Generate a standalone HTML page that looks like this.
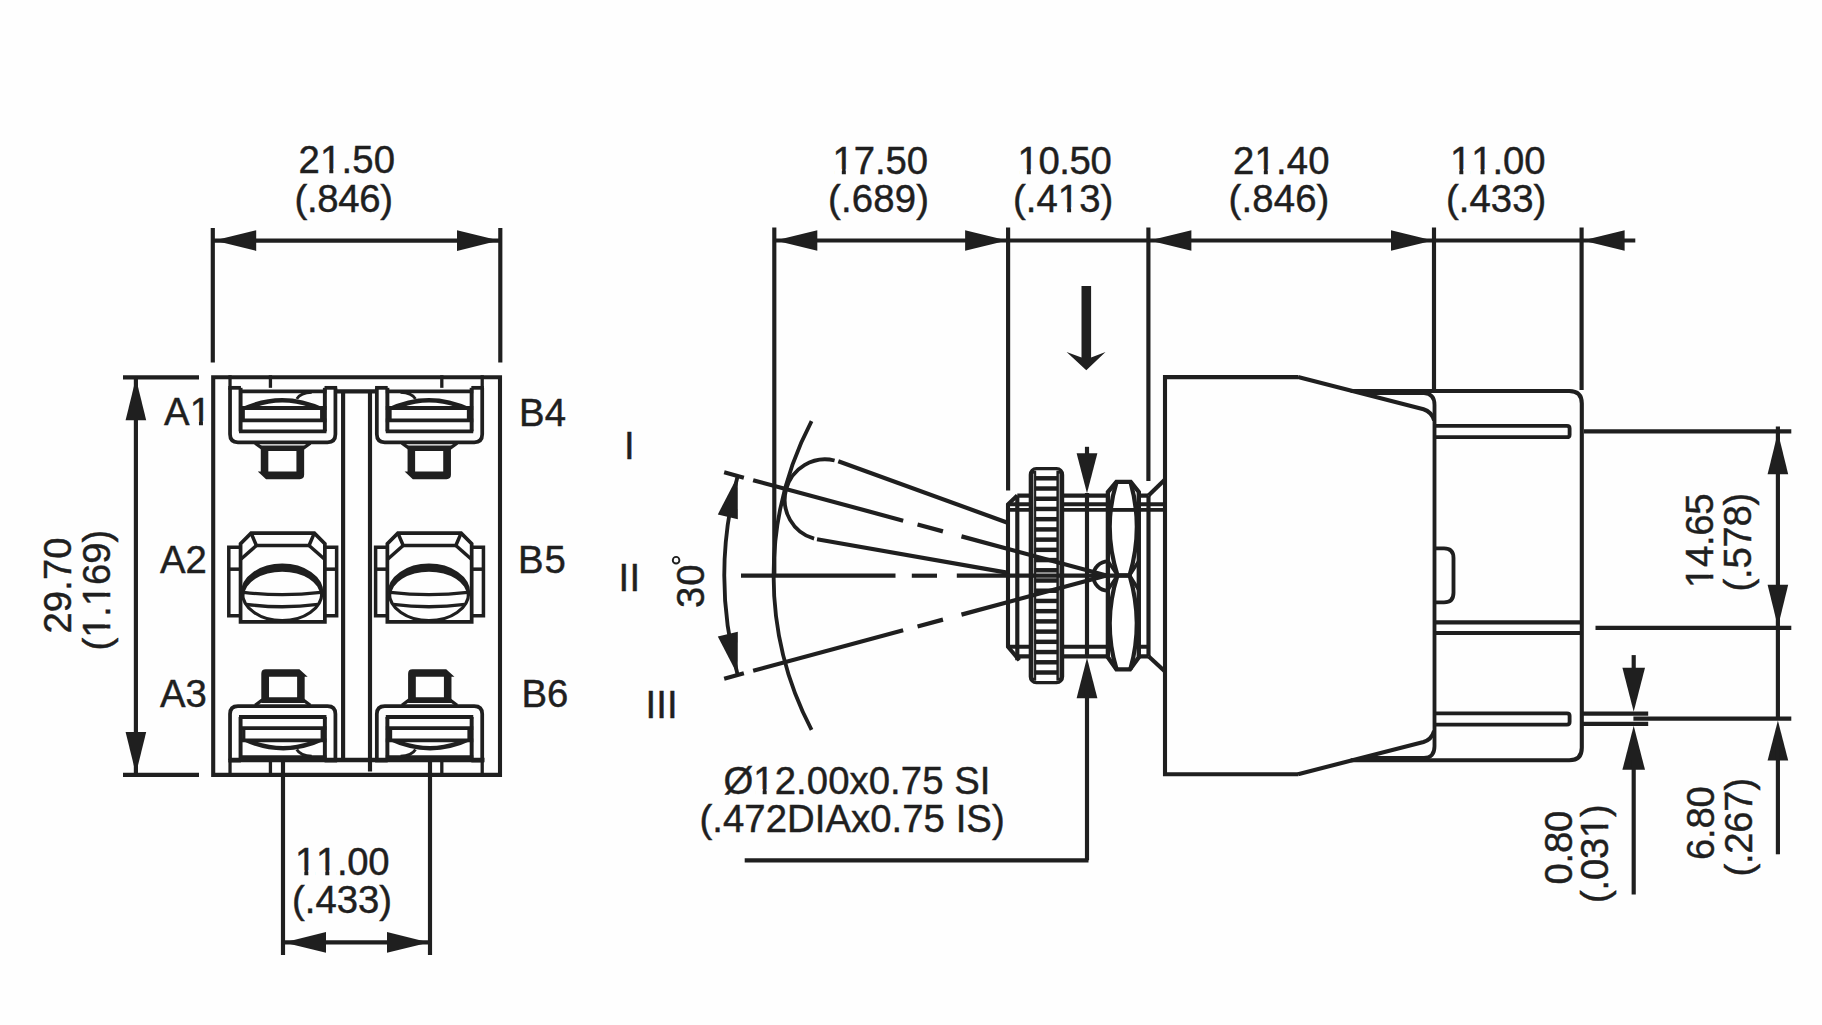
<!DOCTYPE html>
<html><head><meta charset="utf-8"><title>Toggle switch dimensions</title>
<style>
html,body{margin:0;padding:0;background:#fefefe;}
body{width:1822px;height:1025px;overflow:hidden;}
svg{display:block;}
svg text{font-family:"Liberation Sans",sans-serif;fill:#1f1f1f;stroke:#1f1f1f;stroke-width:0.45px;font-kerning:none;font-variant-ligatures:none;}
</style></head><body>
<svg width="1822" height="1025" viewBox="0 0 1822 1025" stroke="#1f1f1f" fill="none" stroke-linecap="butt" stroke-linejoin="miter">
<rect x="0" y="0" width="1822" height="1025" fill="#fefefe" stroke="none"/>
<path d="M213.2,774.9 L213.2,377.3 L500.0,377.3 L500.0,774.9 Z" stroke-width="4.1" fill="none" />
<line x1="212.80" y1="228.00" x2="212.80" y2="362.50" stroke-width="4.16" />
<line x1="500.30" y1="228.00" x2="500.30" y2="362.50" stroke-width="4.16" />
<line x1="213.20" y1="240.60" x2="500.00" y2="240.60" stroke-width="4.16" />
<polygon points="214.20,240.60 256.20,230.30 256.20,250.90" fill="#1f1f1f" stroke="none"/>
<polygon points="499.00,240.60 457.00,250.90 457.00,230.30" fill="#1f1f1f" stroke="none"/>
<line x1="123.00" y1="377.30" x2="199.00" y2="377.30" stroke-width="4.16" />
<line x1="123.00" y1="774.90" x2="199.00" y2="774.90" stroke-width="4.16" />
<line x1="135.90" y1="377.30" x2="135.90" y2="774.90" stroke-width="4.16" />
<polygon points="135.90,378.30 146.20,420.30 125.60,420.30" fill="#1f1f1f" stroke="none"/>
<polygon points="135.90,773.90 125.60,731.90 146.20,731.90" fill="#1f1f1f" stroke="none"/>
<line x1="283.00" y1="760.00" x2="283.00" y2="955.00" stroke-width="4.16" />
<line x1="430.00" y1="760.00" x2="430.00" y2="955.00" stroke-width="4.16" />
<line x1="283.00" y1="942.40" x2="430.00" y2="942.40" stroke-width="4.16" />
<polygon points="284.00,942.40 326.00,932.10 326.00,952.70" fill="#1f1f1f" stroke="none"/>
<polygon points="429.00,942.40 387.00,952.70 387.00,932.10" fill="#1f1f1f" stroke="none"/>
<line x1="343.10" y1="391.30" x2="343.10" y2="761.00" stroke-width="4.16" />
<line x1="370.00" y1="391.30" x2="370.00" y2="771.50" stroke-width="4.16" />
<g transform="translate(-0.70 0)">
<path d="M230.73,387.83 L230.73,434.37 Q230.73,442.27 238.64,442.27 L328.21,442.27 Q336.11,442.27 336.11,434.37 L336.11,387.83" stroke-width="3.74" fill="none" />
<line x1="228.98" y1="387.83" x2="241.62" y2="387.83" stroke-width="3.74" />
<line x1="325.22" y1="387.83" x2="337.86" y2="387.83" stroke-width="3.74" />
<line x1="241.27" y1="387.83" x2="241.27" y2="431.39" stroke-width="3.96" />
<line x1="325.57" y1="387.83" x2="325.57" y2="431.39" stroke-width="3.96" />
<line x1="239.69" y1="391.34" x2="327.15" y2="391.34" stroke-width="3.74" />
<line x1="239.69" y1="408.03" x2="327.15" y2="408.03" stroke-width="3.96" />
<line x1="239.69" y1="420.32" x2="327.15" y2="420.32" stroke-width="3.74" />
<line x1="239.69" y1="431.39" x2="327.15" y2="431.39" stroke-width="3.96" />
<line x1="243.91" y1="408.03" x2="243.91" y2="420.32" stroke-width="3.3" />
<line x1="322.41" y1="408.03" x2="322.41" y2="420.32" stroke-width="3.3" />
<path d="M241.45,407.85 Q282.54,388.18 324.52,407.85 L310.99,407.15 Q282.54,397.67 255.85,407.15 Z" fill="#1f1f1f" stroke="none"/>
<path d="M297.47,398.90 Q300.98,392.75 312.40,392.22" stroke-width="2.86" fill="none" />
<line x1="230.73" y1="375.19" x2="230.73" y2="387.83" stroke-width="3.3" />
<line x1="271.13" y1="375.19" x2="271.13" y2="387.83" stroke-width="3.3" />
<path d="M255.85,443.15 L262.35,447.89 L304.50,447.89 L310.99,443.15" stroke-width="3.3" fill="none" />
<path d="M261.47,445.44 L304.85,445.44 L304.85,474.76 Q304.85,479.16 300.46,479.16 L266.74,479.16 L258.48,471.60 L261.47,471.60 Z M269.02,451.06 L269.02,471.60 L297.12,471.60 L297.12,451.06 Z" fill="#1f1f1f" stroke="none" fill-rule="evenodd"/>
</g>
<g transform="translate(146.10 0)">
<path d="M230.73,387.83 L230.73,434.37 Q230.73,442.27 238.64,442.27 L328.21,442.27 Q336.11,442.27 336.11,434.37 L336.11,387.83" stroke-width="3.74" fill="none" />
<line x1="228.98" y1="387.83" x2="241.62" y2="387.83" stroke-width="3.74" />
<line x1="325.22" y1="387.83" x2="337.86" y2="387.83" stroke-width="3.74" />
<line x1="241.27" y1="387.83" x2="241.27" y2="431.39" stroke-width="3.96" />
<line x1="325.57" y1="387.83" x2="325.57" y2="431.39" stroke-width="3.96" />
<line x1="239.69" y1="391.34" x2="327.15" y2="391.34" stroke-width="3.74" />
<line x1="239.69" y1="408.03" x2="327.15" y2="408.03" stroke-width="3.96" />
<line x1="239.69" y1="420.32" x2="327.15" y2="420.32" stroke-width="3.74" />
<line x1="239.69" y1="431.39" x2="327.15" y2="431.39" stroke-width="3.96" />
<line x1="243.91" y1="408.03" x2="243.91" y2="420.32" stroke-width="3.3" />
<line x1="322.41" y1="408.03" x2="322.41" y2="420.32" stroke-width="3.3" />
<path d="M241.45,407.85 Q282.54,388.18 324.52,407.85 L310.99,407.15 Q282.54,397.67 255.85,407.15 Z" fill="#1f1f1f" stroke="none"/>
<path d="M269.37,398.90 Q265.86,392.75 254.44,392.22" stroke-width="2.86" fill="none" />
<line x1="336.11" y1="375.19" x2="336.11" y2="387.83" stroke-width="3.3" />
<line x1="295.71" y1="375.19" x2="295.71" y2="387.83" stroke-width="3.3" />
<path d="M255.85,443.15 L262.35,447.89 L304.50,447.89 L310.99,443.15" stroke-width="3.3" fill="none" />
<path d="M261.47,445.44 L304.85,445.44 L304.85,474.76 Q304.85,479.16 300.46,479.16 L266.74,479.16 L258.48,471.60 L261.47,471.60 Z M269.02,451.06 L269.02,471.60 L297.12,471.60 L297.12,451.06 Z" fill="#1f1f1f" stroke="none" fill-rule="evenodd"/>
</g>
<g transform="translate(-0.70 0) rotate(180 283.42 574.2)">
<path d="M230.73,387.83 L230.73,434.37 Q230.73,442.27 238.64,442.27 L328.21,442.27 Q336.11,442.27 336.11,434.37 L336.11,387.83" stroke-width="3.74" fill="none" />
<line x1="228.98" y1="387.83" x2="241.62" y2="387.83" stroke-width="3.74" />
<line x1="325.22" y1="387.83" x2="337.86" y2="387.83" stroke-width="3.74" />
<line x1="241.27" y1="387.83" x2="241.27" y2="431.39" stroke-width="3.96" />
<line x1="325.57" y1="387.83" x2="325.57" y2="431.39" stroke-width="3.96" />
<line x1="239.69" y1="391.34" x2="327.15" y2="391.34" stroke-width="3.74" />
<line x1="239.69" y1="408.03" x2="327.15" y2="408.03" stroke-width="3.96" />
<line x1="239.69" y1="420.32" x2="327.15" y2="420.32" stroke-width="3.74" />
<line x1="239.69" y1="431.39" x2="327.15" y2="431.39" stroke-width="3.96" />
<line x1="243.91" y1="408.03" x2="243.91" y2="420.32" stroke-width="3.3" />
<line x1="322.41" y1="408.03" x2="322.41" y2="420.32" stroke-width="3.3" />
<path d="M241.45,407.85 Q282.54,388.18 324.52,407.85 L310.99,407.15 Q282.54,397.67 255.85,407.15 Z" fill="#1f1f1f" stroke="none"/>
<path d="M269.37,398.90 Q265.86,392.75 254.44,392.22" stroke-width="2.86" fill="none" />
<line x1="336.11" y1="375.19" x2="336.11" y2="387.83" stroke-width="3.3" />
<line x1="295.71" y1="375.19" x2="295.71" y2="387.83" stroke-width="3.3" />
<path d="M255.85,443.15 L262.35,447.89 L304.50,447.89 L310.99,443.15" stroke-width="3.3" fill="none" />
<path d="M261.47,445.44 L304.85,445.44 L304.85,474.76 Q304.85,479.16 300.46,479.16 L266.74,479.16 L258.48,471.60 L261.47,471.60 Z M269.02,451.06 L269.02,471.60 L297.12,471.60 L297.12,451.06 Z" fill="#1f1f1f" stroke="none" fill-rule="evenodd"/>
</g>
<g transform="translate(146.10 0) rotate(180 283.42 574.2)">
<path d="M230.73,387.83 L230.73,434.37 Q230.73,442.27 238.64,442.27 L328.21,442.27 Q336.11,442.27 336.11,434.37 L336.11,387.83" stroke-width="3.74" fill="none" />
<line x1="228.98" y1="387.83" x2="241.62" y2="387.83" stroke-width="3.74" />
<line x1="325.22" y1="387.83" x2="337.86" y2="387.83" stroke-width="3.74" />
<line x1="241.27" y1="387.83" x2="241.27" y2="431.39" stroke-width="3.96" />
<line x1="325.57" y1="387.83" x2="325.57" y2="431.39" stroke-width="3.96" />
<line x1="239.69" y1="391.34" x2="327.15" y2="391.34" stroke-width="3.74" />
<line x1="239.69" y1="408.03" x2="327.15" y2="408.03" stroke-width="3.96" />
<line x1="239.69" y1="420.32" x2="327.15" y2="420.32" stroke-width="3.74" />
<line x1="239.69" y1="431.39" x2="327.15" y2="431.39" stroke-width="3.96" />
<line x1="243.91" y1="408.03" x2="243.91" y2="420.32" stroke-width="3.3" />
<line x1="322.41" y1="408.03" x2="322.41" y2="420.32" stroke-width="3.3" />
<path d="M241.45,407.85 Q282.54,388.18 324.52,407.85 L310.99,407.15 Q282.54,397.67 255.85,407.15 Z" fill="#1f1f1f" stroke="none"/>
<path d="M297.47,398.90 Q300.98,392.75 312.40,392.22" stroke-width="2.86" fill="none" />
<line x1="230.73" y1="375.19" x2="230.73" y2="387.83" stroke-width="3.3" />
<line x1="271.13" y1="375.19" x2="271.13" y2="387.83" stroke-width="3.3" />
<path d="M255.85,443.15 L262.35,447.89 L304.50,447.89 L310.99,443.15" stroke-width="3.3" fill="none" />
<path d="M261.47,445.44 L304.85,445.44 L304.85,474.76 Q304.85,479.16 300.46,479.16 L266.74,479.16 L258.48,471.60 L261.47,471.60 Z M269.02,451.06 L269.02,471.60 L297.12,471.60 L297.12,451.06 Z" fill="#1f1f1f" stroke="none" fill-rule="evenodd"/>
</g>
<line x1="336.00" y1="391.30" x2="378.00" y2="391.30" stroke-width="4.35" />
<line x1="229.00" y1="760.00" x2="484.50" y2="760.00" stroke-width="4.35" />
<g transform="translate(-0.70 0)">
<path d="M241.27,621.86 L241.27,543.71 L251.81,533.17 L315.03,533.17 L325.57,543.71 L325.57,621.86 Z" stroke-width="3.74" fill="none" />
<path d="M251.81,533.17 L257.08,545.47 L309.76,545.47 L315.03,533.17" stroke-width="3.52" fill="none" />
<path d="M257.08,545.47 L241.80,558.99" stroke-width="3.52" fill="none" />
<path d="M309.76,545.47 L325.04,558.99" stroke-width="3.52" fill="none" />
<path d="M241.27,547.22 L229.50,547.22 L229.50,615.71 L241.27,615.71" stroke-width="3.52" fill="none" />
<path d="M229.50,569.17 L241.27,569.17" stroke-width="3.52" fill="none" />
<path d="M325.57,547.22 L337.34,547.22 L337.34,615.71 L325.57,615.71" stroke-width="3.52" fill="none" />
<path d="M325.57,569.17 L337.34,569.17" stroke-width="3.52" fill="none" />
<ellipse cx="282.89" cy="592.88" rx="39.69" ry="27.75" stroke-width="3.2" fill="none"/>
<path d="M243.20,592.88 A39.69,27.75 0 0 1 322.59,592.88 L320.83,595.87 A37.93,24.24 0 0 0 244.96,595.87 Z" fill="#1f1f1f" stroke="none"/>
<path d="M244.26,592.36 Q282.89,596.92 321.53,592.36" stroke-width="3.3" fill="none" />
<path d="M247.07,604.30 Q282.89,609.22 318.72,604.30" stroke-width="3.3" fill="none" />
</g>
<g transform="translate(146.10 0)">
<path d="M241.27,621.86 L241.27,543.71 L251.81,533.17 L315.03,533.17 L325.57,543.71 L325.57,621.86 Z" stroke-width="3.74" fill="none" />
<path d="M251.81,533.17 L257.08,545.47 L309.76,545.47 L315.03,533.17" stroke-width="3.52" fill="none" />
<path d="M257.08,545.47 L241.80,558.99" stroke-width="3.52" fill="none" />
<path d="M309.76,545.47 L325.04,558.99" stroke-width="3.52" fill="none" />
<path d="M241.27,547.22 L229.50,547.22 L229.50,615.71 L241.27,615.71" stroke-width="3.52" fill="none" />
<path d="M229.50,569.17 L241.27,569.17" stroke-width="3.52" fill="none" />
<path d="M325.57,547.22 L337.34,547.22 L337.34,615.71 L325.57,615.71" stroke-width="3.52" fill="none" />
<path d="M325.57,569.17 L337.34,569.17" stroke-width="3.52" fill="none" />
<ellipse cx="282.89" cy="592.88" rx="39.69" ry="27.75" stroke-width="3.2" fill="none"/>
<path d="M243.20,592.88 A39.69,27.75 0 0 1 322.59,592.88 L320.83,595.87 A37.93,24.24 0 0 0 244.96,595.87 Z" fill="#1f1f1f" stroke="none"/>
<path d="M244.26,592.36 Q282.89,596.92 321.53,592.36" stroke-width="3.3" fill="none" />
<path d="M247.07,604.30 Q282.89,609.22 318.72,604.30" stroke-width="3.3" fill="none" />
</g>
<text x="298.50" y="173.40" font-size="38.3" letter-spacing="0.200">21.50</text>
<text x="294.50" y="212.00" font-size="38.3" letter-spacing="-0.320">(.846)</text>
<text x="295.00" y="874.80" font-size="38.3" letter-spacing="-0.300">11.00</text>
<text x="292.00" y="913.40" font-size="38.3" letter-spacing="0.000">(.433)</text>
<text x="164.10" y="425.40" font-size="38.3" letter-spacing="0.000">A1</text>
<text x="160.00" y="573.10" font-size="38.3" letter-spacing="0.000">A2</text>
<text x="160.00" y="707.20" font-size="38.3" letter-spacing="0.000">A3</text>
<text x="519.00" y="425.60" font-size="38.3" letter-spacing="0.200">B4</text>
<text x="518.00" y="573.00" font-size="38.3" letter-spacing="1.000">B5</text>
<text x="521.50" y="707.00" font-size="38.3" letter-spacing="0.000">B6</text>
<text x="71.20" y="633.50" font-size="38.3" letter-spacing="0.050" transform="rotate(-90 71.20 633.50)">29.70</text>
<text x="109.50" y="650.50" font-size="38.3" letter-spacing="-0.100" transform="rotate(-90 109.50 650.50)">(1.169)</text>
<line x1="774.30" y1="227.60" x2="774.30" y2="575.80" stroke-width="4.16" />
<line x1="1008.10" y1="227.60" x2="1008.10" y2="490.50" stroke-width="4.16" />
<line x1="1148.40" y1="227.60" x2="1148.40" y2="481.00" stroke-width="4.16" />
<line x1="1434.00" y1="227.60" x2="1434.00" y2="390.00" stroke-width="4.16" />
<line x1="1581.60" y1="227.60" x2="1581.60" y2="390.00" stroke-width="4.16" />
<line x1="774.30" y1="240.50" x2="1635.30" y2="240.50" stroke-width="4.16" />
<polygon points="775.30,240.50 817.30,230.20 817.30,250.80" fill="#1f1f1f" stroke="none"/>
<polygon points="1007.10,240.50 965.10,250.80 965.10,230.20" fill="#1f1f1f" stroke="none"/>
<polygon points="1149.40,240.50 1191.40,230.20 1191.40,250.80" fill="#1f1f1f" stroke="none"/>
<polygon points="1433.00,240.50 1391.00,250.80 1391.00,230.20" fill="#1f1f1f" stroke="none"/>
<polygon points="1582.60,240.50 1624.60,230.20 1624.60,250.80" fill="#1f1f1f" stroke="none"/>
<text x="832.50" y="173.50" font-size="38.3" letter-spacing="-0.100">17.50</text>
<text x="828.00" y="211.90" font-size="38.3" letter-spacing="0.200">(.689)</text>
<text x="1017.50" y="173.50" font-size="38.3" letter-spacing="-0.400">10.50</text>
<text x="1013.00" y="211.90" font-size="38.3" letter-spacing="0.040">(.413)</text>
<text x="1233.00" y="173.70" font-size="38.3" letter-spacing="0.200">21.40</text>
<text x="1228.50" y="211.50" font-size="38.3" letter-spacing="0.160">(.846)</text>
<text x="1450.00" y="173.70" font-size="38.3" letter-spacing="-0.050">11.00</text>
<text x="1446.00" y="211.50" font-size="38.3" letter-spacing="0.040">(.433)</text>
<polygon points="1086.30,370.30 1066.60,351.90 1081.50,357.50 1081.50,286.00 1091.10,286.00 1091.10,357.50 1105.50,351.90" fill="#1f1f1f" stroke="none"/>
<path d="M1298,377.1 L1165.0,377.1 L1165.0,774.2 L1298,774.2" stroke-width="4.1" fill="none" />
<path d="M1298,377.1 L1423.5,409.3 Q1431.5,411.8 1434.2,420.5" stroke-width="4.1" fill="none" />
<path d="M1298,774.2 L1423.5,742.0 Q1431.5,739.5 1434.2,730.8" stroke-width="4.1" fill="none" />
<path d="M1350.7,391.0 L1569.3,391.0 Q1581.8,391.0 1581.8,403.5 L1581.8,747.7 Q1581.8,760.2 1569.3,760.2 L1350.7,760.2" stroke-width="4.1" fill="none" />
<path d="M1362,393.2 L1424,393.2 Q1434.5,393.6 1434.5,405 L1434.5,746.2 Q1434.5,757.7 1424,758.0 L1362,758.0" stroke-width="3.84" fill="none" />
<path d="M1434.5,425.9 L1567,425.9 Q1569.6,425.9 1569.6,428.4 L1569.6,434.7 Q1569.6,437.2 1567,437.2 L1434.5,437.2" stroke-width="3.84" fill="none" />
<path d="M1434.5,713.3 L1567,713.3 Q1569.6,713.3 1569.6,715.8 L1569.6,722.1 Q1569.6,724.6 1567,724.6 L1434.5,724.6" stroke-width="3.84" fill="none" />
<line x1="1434.50" y1="622.40" x2="1581.80" y2="622.40" stroke-width="4.16" />
<line x1="1434.50" y1="633.00" x2="1581.80" y2="633.00" stroke-width="4.16" />
<path d="M1434.5,548.4 L1444,548.4 Q1453.5,548.4 1453.5,558 L1453.5,592.8 Q1453.5,602.4 1444,602.4 L1434.5,602.4" stroke-width="3.84" fill="none" />
<line x1="1583.90" y1="431.30" x2="1791.30" y2="431.30" stroke-width="4.16" />
<line x1="1595.50" y1="627.80" x2="1791.30" y2="627.80" stroke-width="4.16" />
<line x1="1633.40" y1="718.70" x2="1791.30" y2="718.70" stroke-width="4.16" />
<line x1="1582.60" y1="713.70" x2="1648.20" y2="713.70" stroke-width="4.16" />
<line x1="1582.60" y1="723.80" x2="1648.20" y2="723.80" stroke-width="4.16" />
<line x1="1777.90" y1="426.40" x2="1777.90" y2="720.00" stroke-width="4.16" />
<polygon points="1777.90,432.30 1788.20,474.30 1767.60,474.30" fill="#1f1f1f" stroke="none"/>
<polygon points="1777.90,626.80 1767.60,584.80 1788.20,584.80" fill="#1f1f1f" stroke="none"/>
<polygon points="1777.90,720.50 1788.20,760.50 1767.60,760.50" fill="#1f1f1f" stroke="none"/>
<line x1="1777.90" y1="740.00" x2="1777.90" y2="854.30" stroke-width="4.16" />
<line x1="1633.70" y1="655.10" x2="1633.70" y2="680.00" stroke-width="4.16" />
<polygon points="1633.70,711.80 1622.40,667.80 1645.00,667.80" fill="#1f1f1f" stroke="none"/>
<polygon points="1633.70,725.80 1645.00,769.80 1622.40,769.80" fill="#1f1f1f" stroke="none"/>
<line x1="1633.70" y1="760.00" x2="1633.70" y2="894.50" stroke-width="4.16" />
<text x="1713.40" y="588.00" font-size="38.3" letter-spacing="-0.300" transform="rotate(-90 1713.40 588.00)">14.65</text>
<text x="1750.90" y="591.50" font-size="38.3" letter-spacing="-0.240" transform="rotate(-90 1750.90 591.50)">(.578)</text>
<text x="1714.10" y="860.00" font-size="38.3" letter-spacing="-0.267" transform="rotate(-90 1714.10 860.00)">6.80</text>
<text x="1751.50" y="876.50" font-size="38.3" letter-spacing="-0.280" transform="rotate(-90 1751.50 876.50)">(.267)</text>
<text x="1572.10" y="884.50" font-size="38.3" letter-spacing="-0.267" transform="rotate(-90 1572.10 884.50)">0.80</text>
<text x="1607.90" y="903.00" font-size="38.3" letter-spacing="-0.240" transform="rotate(-90 1607.90 903.00)">(.031)</text>
<path d="M1017.3,495.6 L1008.0,504.3 L1008.0,646.8 L1019.3,660.3" stroke-width="4.1" fill="none" />
<line x1="1017.30" y1="495.60" x2="1017.30" y2="660.30" stroke-width="4.16" />
<line x1="1017.30" y1="495.60" x2="1148.50" y2="495.60" stroke-width="4.22" />
<line x1="1008.00" y1="504.30" x2="1165.00" y2="504.30" stroke-width="4.1" />
<line x1="1008.00" y1="509.90" x2="1165.00" y2="509.90" stroke-width="3.84" />
<line x1="1008.00" y1="646.80" x2="1148.50" y2="646.80" stroke-width="4.1" />
<line x1="1017.30" y1="656.30" x2="1148.50" y2="656.30" stroke-width="4.22" />
<line x1="1148.50" y1="495.60" x2="1148.50" y2="656.30" stroke-width="4.16" />
<line x1="1148.50" y1="495.60" x2="1165.00" y2="479.50" stroke-width="4.16" />
<line x1="1148.50" y1="656.30" x2="1165.00" y2="671.50" stroke-width="4.16" />
<rect x="1030.3" y="468.7" width="32.299999999999955" height="214.00000000000006" rx="6" ry="6" fill="#ffffff" stroke-width="3.2"/>
<rect x="1030.50" y="470.7" width="5.70" height="210.00000000000006" fill="#1f1f1f" stroke="none"/>
<rect x="1056.40" y="470.7" width="6.00" height="210.00000000000006" fill="#1f1f1f" stroke="none"/>
<line x1="1033.60" y1="473.70" x2="1033.60" y2="677.70" stroke-width="0.9" stroke="#bbbbbb"/>
<line x1="1059.30" y1="473.70" x2="1059.30" y2="677.70" stroke-width="0.9" stroke="#bbbbbb"/>
<line x1="1034.60" y1="478.30" x2="1057.80" y2="478.30" stroke-width="4.48" />
<line x1="1034.60" y1="488.52" x2="1057.80" y2="488.52" stroke-width="4.48" />
<line x1="1034.60" y1="498.74" x2="1057.80" y2="498.74" stroke-width="4.48" />
<line x1="1034.60" y1="508.96" x2="1057.80" y2="508.96" stroke-width="4.48" />
<line x1="1034.60" y1="519.18" x2="1057.80" y2="519.18" stroke-width="4.48" />
<line x1="1034.60" y1="529.41" x2="1057.80" y2="529.41" stroke-width="4.48" />
<line x1="1034.60" y1="539.63" x2="1057.80" y2="539.63" stroke-width="4.48" />
<line x1="1034.60" y1="549.85" x2="1057.80" y2="549.85" stroke-width="4.48" />
<line x1="1034.60" y1="560.07" x2="1057.80" y2="560.07" stroke-width="4.48" />
<line x1="1034.60" y1="570.29" x2="1057.80" y2="570.29" stroke-width="4.48" />
<line x1="1034.60" y1="580.51" x2="1057.80" y2="580.51" stroke-width="4.48" />
<line x1="1034.60" y1="590.73" x2="1057.80" y2="590.73" stroke-width="4.48" />
<line x1="1034.60" y1="600.95" x2="1057.80" y2="600.95" stroke-width="4.48" />
<line x1="1034.60" y1="611.17" x2="1057.80" y2="611.17" stroke-width="4.48" />
<line x1="1034.60" y1="621.39" x2="1057.80" y2="621.39" stroke-width="4.48" />
<line x1="1034.60" y1="631.62" x2="1057.80" y2="631.62" stroke-width="4.48" />
<line x1="1034.60" y1="641.84" x2="1057.80" y2="641.84" stroke-width="4.48" />
<line x1="1034.60" y1="652.06" x2="1057.80" y2="652.06" stroke-width="4.48" />
<line x1="1034.60" y1="662.28" x2="1057.80" y2="662.28" stroke-width="4.48" />
<line x1="1034.60" y1="672.50" x2="1057.80" y2="672.50" stroke-width="4.48" />
<line x1="1087.00" y1="446.80" x2="1087.00" y2="460.00" stroke-width="4.16" />
<polygon points="1087.00,493.20 1076.60,453.20 1097.40,453.20" fill="#1f1f1f" stroke="none"/>
<line x1="1087.00" y1="493.00" x2="1087.00" y2="657.50" stroke-width="4.16" />
<polygon points="1087.00,657.80 1097.40,698.30 1076.60,698.30" fill="#1f1f1f" stroke="none"/>
<line x1="1087.00" y1="690.00" x2="1087.00" y2="860.30" stroke-width="4.16" />
<line x1="744.70" y1="860.30" x2="1088.50" y2="860.30" stroke-width="4.16" />
<path d="M1107.9,657.3 L1107.9,492 L1116.4,481.8 L1130.7,481.8 L1138.8,492 L1138.8,657.3 L1130.0,669.4 L1116.4,669.4 Z" stroke-width="4.35" fill="#ffffff" />
<path d="M1116.6,481.8 Q1102.4,528 1117.5,575.3 L1129.6,575.3 Q1143.6,528 1130.5,481.8" stroke-width="4.22" fill="none" />
<path d="M1117.5,575.3 Q1102.4,623 1116.6,669.4 M1129.6,575.3 Q1143.6,623 1130.3,669.4" stroke-width="4.22" fill="none" />
<line x1="1107.90" y1="509.90" x2="1138.80" y2="509.90" stroke-width="3.84" />
<path d="M1117.5,575.3 L1107.9,561 M1117.5,575.3 L1107.9,590 M1129.6,575.3 L1138.8,561 M1129.6,575.3 L1138.8,590" stroke-width="3.33" fill="none" />
<path d="M1108,561.3 A14.7,14.7 0 0 0 1108,590.7" stroke-width="3.84" fill="none" />
<line x1="741.00" y1="575.70" x2="895.50" y2="575.70" stroke-width="4.16" />
<line x1="911.80" y1="575.70" x2="937.00" y2="575.70" stroke-width="4.16" />
<line x1="956.80" y1="575.70" x2="1130.00" y2="575.70" stroke-width="4.16" />
<line x1="1106.50" y1="575.50" x2="961.49" y2="536.37" stroke-width="4.16" />
<line x1="942.95" y1="531.37" x2="917.56" y2="524.52" stroke-width="4.16" />
<line x1="903.17" y1="520.64" x2="753.14" y2="480.16" stroke-width="4.16" />
<line x1="743.87" y1="477.65" x2="724.17" y2="472.34" stroke-width="4.16" />
<line x1="1106.50" y1="575.50" x2="961.49" y2="614.63" stroke-width="4.16" />
<line x1="942.95" y1="619.63" x2="917.56" y2="626.48" stroke-width="4.16" />
<line x1="903.17" y1="630.36" x2="753.14" y2="670.84" stroke-width="4.16" />
<line x1="743.87" y1="673.35" x2="724.17" y2="678.66" stroke-width="4.16" />
<path d="M811.56,421.13 A332.9,332.9 0 0 0 811.56,729.87" stroke-width="3.84" fill="none" />
<path d="M737.69,475.99 A382.0,382.0 0 0 0 737.69,675.01" stroke-width="3.84" fill="none" />
<polygon points="737.69,475.99 737.82,519.23 717.80,514.39" fill="#1f1f1f" stroke="none"/>
<polygon points="737.69,675.01 717.80,636.61 737.82,631.77" fill="#1f1f1f" stroke="none"/>
<path d="M834.6,460.5 A40.43,40.43 0 0 0 814.1,538.7" stroke-width="3.84" fill="none" />
<line x1="838.30" y1="461.20" x2="1006.90" y2="522.50" stroke-width="4.16" />
<line x1="817.00" y1="539.20" x2="1006.90" y2="572.60" stroke-width="4.16" />
<text x="624.00" y="458.90" font-size="38.3" letter-spacing="0.000">I</text>
<text x="618.50" y="590.90" font-size="38.3" letter-spacing="0.400">II</text>
<text x="645.50" y="717.50" font-size="38.3" letter-spacing="0.100">III</text>
<text x="703.70" y="608.00" font-size="38.3" letter-spacing="1.000" transform="rotate(-90 703.70 608.00)">30</text>
<circle cx="676.1" cy="560.2" r="3.3" stroke-width="1.9" fill="none"/>
<text x="723.50" y="793.60" font-size="38.3" letter-spacing="0.062">Ø12.00x0.75 SI</text>
<text x="699.50" y="831.80" font-size="38.3" letter-spacing="0.050">(.472DIAx0.75 IS)</text>
<rect x="321.70" y="168.74" width="7.61" height="6.46" fill="#fefefe" stroke="none"/>
<rect x="333.30" y="168.74" width="7.31" height="6.46" fill="#fefefe" stroke="none"/>
<rect x="296.72" y="870.14" width="7.61" height="6.46" fill="#fefefe" stroke="none"/>
<rect x="308.32" y="870.14" width="7.31" height="6.46" fill="#fefefe" stroke="none"/>
<rect x="317.70" y="870.14" width="7.61" height="6.46" fill="#fefefe" stroke="none"/>
<rect x="329.30" y="870.14" width="7.31" height="6.46" fill="#fefefe" stroke="none"/>
<rect x="191.35" y="420.74" width="7.61" height="6.46" fill="#fefefe" stroke="none"/>
<rect x="202.95" y="420.74" width="7.31" height="6.46" fill="#fefefe" stroke="none"/>
<rect x="123.86" y="645.84" width="7.61" height="6.46" fill="#fefefe" stroke="none" transform="rotate(-90 109.50 650.50)"/>
<rect x="135.46" y="645.84" width="7.31" height="6.46" fill="#fefefe" stroke="none" transform="rotate(-90 109.50 650.50)"/>
<rect x="155.61" y="645.84" width="7.61" height="6.46" fill="#fefefe" stroke="none" transform="rotate(-90 109.50 650.50)"/>
<rect x="167.21" y="645.84" width="7.31" height="6.46" fill="#fefefe" stroke="none" transform="rotate(-90 109.50 650.50)"/>
<rect x="834.22" y="168.84" width="7.61" height="6.46" fill="#fefefe" stroke="none"/>
<rect x="845.82" y="168.84" width="7.31" height="6.46" fill="#fefefe" stroke="none"/>
<rect x="1019.22" y="168.84" width="7.61" height="6.46" fill="#fefefe" stroke="none"/>
<rect x="1030.82" y="168.84" width="7.31" height="6.46" fill="#fefefe" stroke="none"/>
<rect x="1059.51" y="207.24" width="7.61" height="6.46" fill="#fefefe" stroke="none"/>
<rect x="1071.11" y="207.24" width="7.31" height="6.46" fill="#fefefe" stroke="none"/>
<rect x="1256.20" y="169.04" width="7.61" height="6.46" fill="#fefefe" stroke="none"/>
<rect x="1267.80" y="169.04" width="7.31" height="6.46" fill="#fefefe" stroke="none"/>
<rect x="1451.72" y="169.04" width="7.61" height="6.46" fill="#fefefe" stroke="none"/>
<rect x="1463.32" y="169.04" width="7.31" height="6.46" fill="#fefefe" stroke="none"/>
<rect x="1472.95" y="169.04" width="7.61" height="6.46" fill="#fefefe" stroke="none"/>
<rect x="1484.55" y="169.04" width="7.31" height="6.46" fill="#fefefe" stroke="none"/>
<rect x="1715.12" y="583.34" width="7.61" height="6.46" fill="#fefefe" stroke="none" transform="rotate(-90 1713.40 588.00)"/>
<rect x="1726.72" y="583.34" width="7.31" height="6.46" fill="#fefefe" stroke="none" transform="rotate(-90 1713.40 588.00)"/>
<rect x="1674.63" y="898.34" width="7.61" height="6.46" fill="#fefefe" stroke="none" transform="rotate(-90 1607.90 903.00)"/>
<rect x="1686.23" y="898.34" width="7.31" height="6.46" fill="#fefefe" stroke="none" transform="rotate(-90 1607.90 903.00)"/>
<rect x="755.06" y="788.94" width="7.61" height="6.46" fill="#fefefe" stroke="none"/>
<rect x="766.66" y="788.94" width="7.31" height="6.46" fill="#fefefe" stroke="none"/>
</svg>
</body></html>
